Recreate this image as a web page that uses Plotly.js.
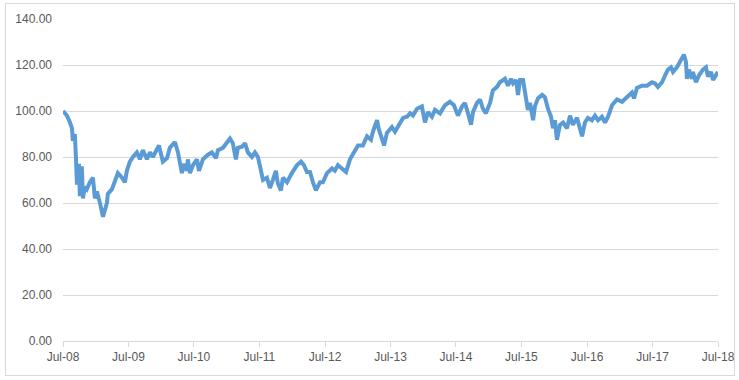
<!DOCTYPE html>
<html>
<head>
<meta charset="utf-8">
<script src="https://cdn.plot.ly/plotly-3.0.1.min.js"></script>
<style>
  html, body { margin: 0; padding: 0; background: #fff; }
  #wrap { position: relative; width: 739px; height: 380px; }
  #chart { width: 739px; height: 380px; }
  #frame { position: absolute; left: 5px; top: 3px; width: 728px; height: 371px;
           border: 1px solid #D9D9D9; pointer-events: none; }
</style>
</head>
<body>
<div id="wrap"><div id="chart"></div><div id="frame"></div></div>
<script>
// Time in decimal years (2008.5 = Jul-08)
var years = [
  2008.500, 2008.561, 2008.607, 2008.637, 2008.653, 2008.683, 2008.698, 2008.714, 2008.744, 2008.760,
  2008.790, 2008.805, 2008.836, 2008.866, 2008.912, 2008.958, 2008.989, 2009.019, 2009.065, 2009.111,
  2009.172, 2009.187, 2009.248, 2009.294, 2009.340, 2009.401, 2009.447, 2009.477, 2009.523, 2009.569,
  2009.630, 2009.676, 2009.706, 2009.721, 2009.782, 2009.828, 2009.874, 2009.935, 2009.966, 2010.027,
  2010.088, 2010.134, 2010.210, 2010.256, 2010.317, 2010.347, 2010.393, 2010.408, 2010.439, 2010.485,
  2010.546, 2010.576, 2010.637, 2010.714, 2010.775, 2010.836, 2010.866, 2010.943, 2011.004, 2011.050,
  2011.095, 2011.141, 2011.172, 2011.233, 2011.279, 2011.324, 2011.385, 2011.431, 2011.477, 2011.523,
  2011.553, 2011.615, 2011.660, 2011.706, 2011.752, 2011.782, 2011.828, 2011.859, 2011.920, 2011.996,
  2012.073, 2012.134, 2012.179, 2012.225, 2012.271, 2012.317, 2012.363, 2012.424, 2012.469, 2012.531,
  2012.607, 2012.653, 2012.698, 2012.760, 2012.821, 2012.882, 2012.958, 2013.004, 2013.080, 2013.141,
  2013.202, 2013.233, 2013.294, 2013.324, 2013.370, 2013.401, 2013.447, 2013.523, 2013.569, 2013.630,
  2013.691, 2013.752, 2013.798, 2013.844, 2013.905, 2013.981, 2014.027, 2014.073, 2014.134, 2014.179,
  2014.256, 2014.332, 2014.408, 2014.469, 2014.531, 2014.592, 2014.637, 2014.683, 2014.729, 2014.760,
  2014.821, 2014.866, 2014.912, 2014.958, 2015.019, 2015.065, 2015.126, 2015.172, 2015.248, 2015.294,
  2015.340, 2015.370, 2015.416, 2015.447, 2015.477, 2015.523, 2015.569, 2015.599, 2015.630, 2015.676,
  2015.706, 2015.752, 2015.813, 2015.859, 2015.905, 2015.950, 2015.981, 2016.011, 2016.042, 2016.088,
  2016.134, 2016.195, 2016.240, 2016.286, 2016.347, 2016.378, 2016.424, 2016.469, 2016.515, 2016.576,
  2016.622, 2016.668, 2016.729, 2016.775, 2016.821, 2016.882, 2016.958, 2017.034, 2017.111, 2017.187,
  2017.218, 2017.263, 2017.340, 2017.416, 2017.492, 2017.538, 2017.584, 2017.645, 2017.691, 2017.737,
  2017.782, 2017.813, 2017.874, 2017.920, 2017.950, 2017.981, 2018.011, 2018.027, 2018.057, 2018.103,
  2018.118, 2018.164, 2018.210, 2018.271, 2018.317, 2018.347, 2018.393, 2018.424, 2018.485, 2018.500
];
var values = [
  100, 98, 95, 92.5, 87, 90, 80, 68, 77, 63,
  76, 62, 67, 66, 69, 71, 62, 65, 60, 54,
  60, 64, 66, 70, 73, 71, 69, 74, 78, 80,
  82, 79, 82, 83, 79, 82, 80, 84, 85, 78,
  79.5, 84, 86.5, 82, 73, 77, 74, 79, 73, 76.5,
  79, 74, 79, 81, 82, 79.5, 83, 84, 86, 88,
  86, 79, 84, 84.5, 86, 82, 80, 82, 80, 73,
  70, 71, 66.5, 70, 74, 68.5, 65.5, 71, 69, 73,
  76.5, 78, 76.5, 73.5, 73.5, 69, 65.5, 69, 69, 73,
  75, 74, 76.5, 75, 73.5, 79, 83, 85, 85, 89,
  87.5, 91, 96, 92, 88, 85, 90.5, 93, 91, 94,
  97, 97.5, 99, 98, 101, 102, 95, 99.5, 97.5, 100.5,
  99, 102.5, 104, 102.5, 98, 102, 103.5, 99, 94, 99.5,
  103.5, 105, 101, 99, 103.5, 109, 110.5, 112.5, 114, 111,
  114, 112, 113.5, 107, 113.5, 113.5, 105, 100.5, 103.5, 96,
  102, 105.5, 107, 106, 101, 97.5, 92.5, 96, 87.5, 94,
  95, 92.5, 98, 94, 97, 94, 89, 95, 97, 96,
  98, 96, 97.5, 95, 97.5, 102.5, 105, 104, 106, 108,
  105.5, 110, 111, 111, 112.5, 112, 110.5, 112.5, 115.5, 118,
  119, 117, 119, 121, 123, 124.5, 121.5, 114, 118, 114,
  117, 112.5, 115.5, 118, 119, 115, 117, 113.5, 116.5, 117
];
var yTicks = [0, 20, 40, 60, 80, 100, 120, 140];

function toDate(t) {
  var ms = Date.UTC(2008, 6, 1) + (t - 2008.5) * 365.25 * 86400000;
  return new Date(ms).toISOString().slice(0, 10);
}
var dates = years.map(toDate);

var trace = {
  x: dates, y: values, type: 'scatter', mode: 'lines',
  line: { color: '#5B9BD5', width: 4 },
  hoverinfo: 'skip'
};

var font = { family: 'Liberation Sans, Arial, sans-serif', size: 12, color: '#595959' };

var layout = {
  width: 739, height: 380,
  margin: { l: 63, r: 21, t: 19, b: 39 },
  paper_bgcolor: '#ffffff', plot_bgcolor: '#ffffff',
  showlegend: false,
  font: font,
  xaxis: {
    type: 'date',
    range: ['2008-07-01', '2018-07-01'],
    tick0: '2008-07-01', dtick: 'M12', tickformat: '%b-%y',
    showgrid: false, zeroline: false,
    showline: true, linecolor: '#D9D9D9', linewidth: 1,
    ticks: 'outside', ticklen: 5, tickcolor: '#D9D9D9', tickwidth: 1,
    tickfont: font
  },
  yaxis: {
    range: [0, 140],
    tickvals: yTicks,
    ticktext: yTicks.map(function (v) { return v.toFixed(2); }),
    showgrid: true, gridcolor: '#D9D9D9', gridwidth: 1,
    zeroline: false, showline: false, ticks: '',
    ticklabelstandoff: 10,
    tickfont: font
  }
};

Plotly.newPlot('chart', [trace], layout, { staticPlot: true, displayModeBar: false });
</script>
</body>
</html>
